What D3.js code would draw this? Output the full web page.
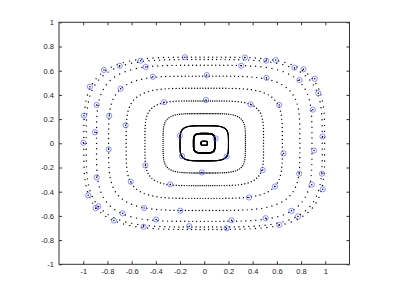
<!DOCTYPE html>
<html>
<head>
<meta charset="utf-8">
<script src="https://cdn.jsdelivr.net/npm/d3@7"></script>
<style>
  body { margin: 0; background: #fff; }
  svg text { font-family: "Liberation Sans", Arial, sans-serif; font-size: 7.5px; fill: #222; }
</style>
</head>
<body>
<svg id="chart" width="395" height="297"></svg>
<script>
// axis ticks
var xTicks = [-1, -0.8, -0.6, -0.4, -0.2, 0, 0.2, 0.4, 0.6, 0.8, 1];
var xTickLabels = ["-1", "-0.8", "-0.6", "-0.4", "-0.2", "0", "0.2", "0.4", "0.6", "0.8", "1"];
var yTicks = [-1, -0.8, -0.6, -0.4, -0.2, 0, 0.2, 0.4, 0.6, 0.8, 1];
var yTickLabels = ["-1", "-0.8", "-0.6", "-0.4", "-0.2", "0", "0.2", "0.4", "0.6", "0.8", "1"];

// orbits (rounded rings): half width, half height, squareness, dots
var ringRx  = [0.995, 0.975, 0.89, 0.79, 0.645, 0.49, 0.34, 0.20, 0.088, 0.026];
var ringRy  = [0.712, 0.692, 0.645, 0.555, 0.455, 0.35, 0.245, 0.145, 0.080, 0.017];
var ringPow = [3.8, 3.8, 4.0, 4.1, 4.3, 4.5, 4.6, 4.3, 4.3, 4];
var ringPts = [128, 128, 128, 126, 126, 128, 130, 520, 320, 140];
var ringDot = [0.7, 0.7, 0.7, 0.7, 0.7, 0.7, 0.7, 0.6, 0.8, 0.6];

// circled points
var markX = [-0.994, -0.945, -0.829, -0.526, -0.160, -0.889, -0.699, -0.484, -0.785, -0.691,
             -0.424, -0.650, -0.331, -0.201, -0.998, -0.903, 0.336, 0.512, 0.590, 0.745,
             0.820, 0.912, 0.942, 0.977, 0.306, 0.020, 0.514, 0.787, 0.897, 0.014,
             0.383, 0.619, 0.094, 0.907, -0.790, -0.486, -0.184, -0.021, -0.889, -0.607,
             -0.281, -0.959, -0.897, -0.876, -0.674, -0.497, -0.198, -0.746, -0.397, -0.501,
             -0.124, 0.185, 0.483, 0.655, 0.785, 0.973, 0.584, 0.888, 0.979, 0.369,
             0.721, 0.774, 0.225, 0.507, 0.620, 0.185];
var markY = [0.228, 0.468, 0.606, 0.683, 0.711, 0.317, 0.641, 0.631, 0.228, 0.451,
             0.550, 0.149, 0.339, 0.063, 0.004, 0.091, 0.709, 0.683, 0.688, 0.625,
             0.612, 0.533, 0.414, 0.056, 0.641, 0.564, 0.541, 0.523, 0.278, 0.358,
             0.322, 0.317, 0.040, -0.060, -0.050, -0.183, -0.105, -0.241, -0.281, -0.318,
             -0.339, -0.430, -0.536, -0.522, -0.579, -0.535, -0.557, -0.638, -0.630, -0.690,
             -0.685, -0.109, -0.221, -0.084, -0.251, -0.251, -0.357, -0.342, -0.380, -0.448,
             -0.558, -0.605, -0.636, -0.619, -0.674, -0.702];

var svg = d3.select("#chart");

var x = d3.scaleLinear().domain([-1.2, 1.2]).range([59, 349.5]);
var y = d3.scaleLinear().domain([-1, 1]).range([264.3, 22.3]);

// rings as dotted orbits
var g = svg.append("g");
ringRx.forEach(function (rx, k) {
    var ry = ringRy[k], p = ringPow[k], n = ringPts[k];
    var pts = d3.range(n).map(function (i) {
        var t = 2 * Math.PI * i / n + 0.05;
        var c = Math.cos(t), s = Math.sin(t);
        var r = Math.pow(Math.pow(Math.abs(c / rx), p) + Math.pow(Math.abs(s / ry), p), -1 / p);
        return [r * c, r * s];
    });
    g.selectAll(null)
        .data(pts)
        .enter().append("circle")
        .attr("cx", function (d) { return x(d[0]); })
        .attr("cy", function (d) { return y(d[1]); })
        .attr("r", ringDot[k])
        .attr("fill", "#000");
});

var marks = markX.map(function (v, i) { return [v, markY[i]]; });

g.selectAll(".mark")
    .data(marks)
    .enter().append("circle")
    .attr("class", "mark")
    .attr("cx", function (d) { return x(d[0]); })
    .attr("cy", function (d) { return y(d[1]); })
    .attr("r", 2.6)
    .attr("fill", "none")
    .attr("stroke", "#5c5cff")
    .attr("stroke-width", 0.7);

g.selectAll(".markdot")
    .data(marks)
    .enter().append("circle")
    .attr("class", "markdot")
    .attr("cx", function (d) { return x(d[0]); })
    .attr("cy", function (d) { return y(d[1]); })
    .attr("r", 0.75)
    .attr("fill", "#000");

// axes, ticks inside on all sides
function fmt(labels, ticks) {
    return function (d) { return labels[ticks.indexOf(d)]; };
}

svg.append("g")
    .attr("transform", "translate(0," + y(-1) + ")")
    .call(d3.axisBottom(x).tickValues(xTicks).tickFormat(fmt(xTickLabels, xTicks))
        .tickSizeInner(-3).tickSizeOuter(0).tickPadding(4));

svg.append("g")
    .attr("transform", "translate(0," + y(1) + ")")
    .call(d3.axisTop(x).tickValues(xTicks).tickFormat("")
        .tickSizeInner(-3).tickSizeOuter(0));

svg.append("g")
    .attr("transform", "translate(" + x(-1.2) + ",0)")
    .call(d3.axisLeft(y).tickValues(yTicks).tickFormat(fmt(yTickLabels, yTicks))
        .tickSizeInner(-3).tickSizeOuter(0).tickPadding(5));

svg.append("g")
    .attr("transform", "translate(" + x(1.2) + ",0)")
    .call(d3.axisRight(y).tickValues(yTicks).tickFormat("")
        .tickSizeInner(-3).tickSizeOuter(0));

svg.selectAll(".domain").remove();
svg.selectAll(".tick line").attr("stroke", "#333");
svg.selectAll(".tick text").attr("fill", "#222").attr("font-size", "7.5px");

svg.append("rect")
    .attr("x", x(-1.2))
    .attr("y", y(1))
    .attr("width", x(1.2) - x(-1.2))
    .attr("height", y(-1) - y(1))
    .attr("fill", "none")
    .attr("stroke", "#333")
    .attr("stroke-width", 1);
</script>
</body>
</html>
